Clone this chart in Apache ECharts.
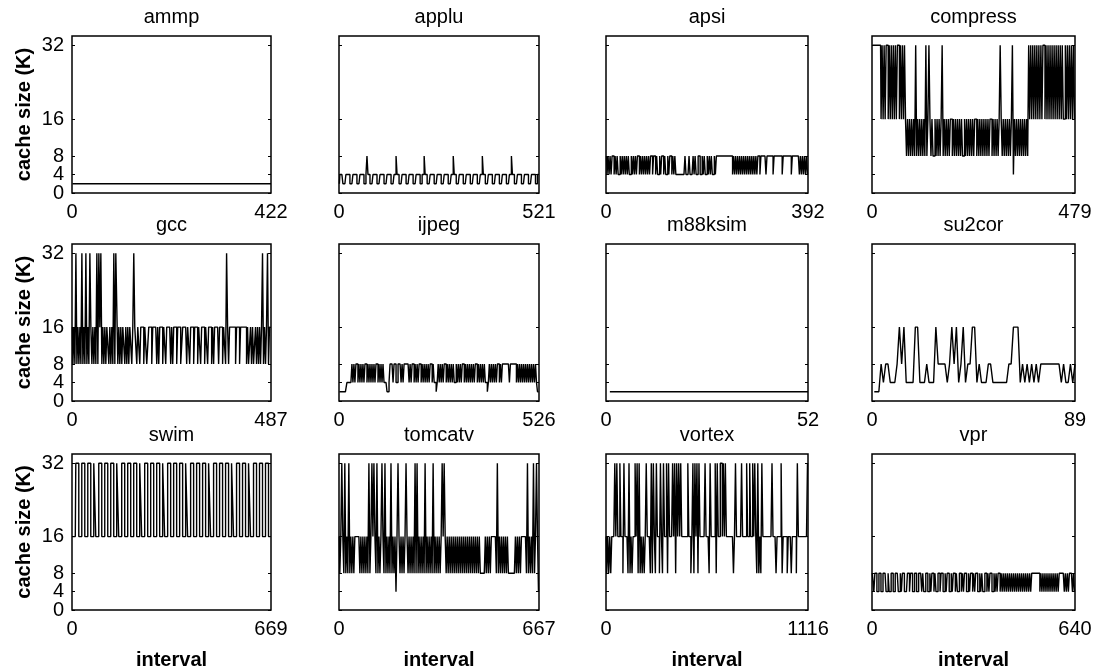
<!DOCTYPE html>
<html>
<head>
<meta charset="utf-8">
<script src="https://cdn.jsdelivr.net/npm/echarts@6/dist/echarts.min.js"></script>
<style>
  html, body { margin: 0; padding: 0; background: #fff; }
  #chart { width: 1098px; height: 672px; }
</style>
</head>
<body>
<div id="chart"></div>
<script>
// benchmarks, in panel order (row by row)
const benchmarks = ['ammp', 'applu', 'apsi', 'compress', 'gcc', 'ijpeg', 'm88ksim', 'su2cor', 'swim', 'tomcatv', 'vortex', 'vpr']
// number of intervals of each run (last x tick)
const intervalCounts = [422, 521, 392, 479, 487, 526, 52, 89, 669, 667, 1116, 640]
const cacheTicks = [0, 4, 8, 16, 32]
// tick labels split in two sets so neighbouring labels are not dropped
const cacheLabelsA = [0, 8, 32]
const cacheLabelsB = [4, 16]

// cache size (K), samples spread evenly from interval 1 to the last interval
const ammp = [2, 2]
const applu = [
  2, 4, 4, 4, 2, 2, 2, 4, 4, 4, 4, 2, 2, 2, 4, 4, 4, 4, 2, 2, 2, 4, 4, 4, 4, 2, 2, 4, 8,
  4, 4, 2, 2, 2, 4, 4, 4, 4, 2, 2, 2, 4, 4, 4, 4, 2, 2, 2, 4, 4, 4, 4, 2, 2, 2, 4, 4, 8,
  4, 4, 2, 2, 2, 4, 4, 4, 4, 2, 2, 2, 4, 4, 4, 4, 2, 2, 2, 4, 4, 4, 4, 2, 2, 4, 4, 8,
  4, 4, 2, 2, 2, 4, 4, 4, 4, 2, 2, 2, 4, 4, 4, 4, 2, 2, 2, 4, 4, 4, 4, 2, 2, 2, 4, 4, 8,
  4, 4, 2, 2, 2, 4, 4, 4, 4, 2, 2, 2, 4, 4, 4, 4, 2, 2, 2, 4, 4, 4, 4, 2, 2, 2, 4, 4, 8,
  4, 4, 2, 2, 2, 4, 4, 4, 4, 2, 2, 2, 4, 4, 4, 4, 2, 2, 2, 4, 4, 4, 4, 2, 2, 2, 4, 4, 8,
  4, 4, 2, 2, 2, 4, 4, 4, 4, 2, 2, 2, 4, 4, 4, 4, 2, 2, 2, 4, 4, 4, 4, 2, 2, 4, 4
]
const apsi = [
  8, 4, 8, 4, 8, 4, 8, 8, 4, 8, 4, 8, 4, 4, 8, 4, 8, 4, 8, 4,
  8, 4, 8, 4, 4, 8, 4, 8, 4, 8, 4, 8, 8, 4, 8, 4, 8, 4, 8, 4,
  8, 4, 8, 4, 8, 8, 4, 8, 8, 4, 8, 4, 4, 8, 4, 8, 8, 4, 8, 4,
  4, 8, 4, 8, 8, 4, 8, 4, 8, 4, 4, 4, 4, 4, 4, 4, 4, 4, 8, 4,
  4, 4, 8, 4, 4, 4, 8, 4, 8, 4, 4, 8, 8, 4, 4, 8, 4, 8, 4, 4,
  8, 4, 8, 4, 8, 4, 4, 8, 4, 8, 8, 8, 8, 8, 8, 8, 8, 8, 8, 8,
  8, 8, 8, 8, 8, 4, 8, 4, 8, 4, 8, 4, 8, 4, 8, 4, 8, 4, 8, 4,
  8, 4, 8, 4, 8, 4, 8, 4, 8, 4, 8, 8, 4, 8, 8, 8, 8, 8, 4, 8,
  8, 8, 8, 8, 8, 4, 8, 8, 8, 8, 8, 8, 8, 8, 4, 8, 8, 8, 8, 8,
  8, 8, 8, 4, 8, 8, 8, 8, 8, 8, 8, 4, 8, 4, 8, 4, 8, 4, 8, 4
]
const compress = [
  32, 32, 32, 32, 32, 32, 32, 32, 32,
  16, 32, 16, 32, 16, 32, 32, 16, 32, 16, 32, 16, 32, 16, 32, 16, 32, 32, 16, 32, 16, 32, 16, 32, 16,
  8, 16, 8, 16, 8, 16, 8, 16, 8, 32,
  8, 16, 8, 16, 8, 16, 8, 16, 8, 32,
  8, 16, 32, 16, 8, 16, 8, 8, 16, 8,
  16, 8, 16, 8, 16, 32, 8, 16, 8, 16,
  8, 16, 8, 16, 16, 8, 16, 8, 16, 8,
  16, 8, 16, 8, 16, 8, 8, 16, 8, 16,
  8, 16, 8, 16, 8, 16, 8, 16, 16, 8,
  16, 8, 16, 8, 16, 8, 16, 8, 16, 8,
  16, 8, 16, 16, 8, 16, 8, 16, 8, 16,
  8, 16, 32, 16, 8, 16, 8, 16, 8, 16,
  8, 16, 8, 16, 32, 4, 16, 8, 16, 8,
  16, 8, 16, 8, 16, 8, 16, 8, 16, 8,
  32, 16, 32, 16, 32, 16, 32, 16, 32, 16, 32, 16, 32, 16, 32, 32, 16, 32, 16, 32,
  16, 32, 16, 32, 16, 32, 16, 32, 16, 32, 16, 32, 16, 32, 16, 16, 32, 16, 32, 16,
  32, 16, 32, 16, 32, 16
]
const gcc = [
  16, 8, 16, 8, 32, 8, 16, 8, 16, 8, 32, 8, 16, 8, 32, 8, 16, 8, 32, 16,
  8, 16, 8, 16, 8, 32, 8, 32, 16, 32, 8, 16,
  8, 16, 8, 16, 16, 8, 16, 8, 16, 8,
  32, 8, 32, 32, 8,
  16, 8, 16, 8, 16, 16, 8, 16, 8, 16, 8, 16, 16, 8, 16,
  32,
  16, 16, 8, 16, 16, 8, 16, 16, 16, 8, 16, 16, 8, 8, 16, 16, 16, 8, 16, 16,
  16, 16, 8, 16, 8, 16, 16, 16, 8, 16, 16, 8, 16, 16, 16, 16, 8, 16, 8, 16,
  16, 16, 8, 16, 16, 16, 8, 8, 16, 16, 16, 16, 8, 16, 16, 8, 16, 16, 16, 8,
  16, 16, 16, 8, 16, 16, 8, 16, 16, 16, 8, 16, 16, 8, 16, 16, 16, 8, 16, 8,
  16, 16, 16, 16, 8, 16, 16, 16, 8, 16, 16, 8,
  32, 16,
  8, 16, 16, 16, 16, 16, 16, 8, 16, 16, 16, 8, 16, 16, 16, 16, 16, 16,
  8, 16, 8, 8, 16, 8, 16, 8, 8, 16, 8, 16, 8, 16, 8, 16, 32, 8, 16, 8,
  16, 32, 8, 16, 16
]
const ijpeg = [
  2, 2, 2, 2, 2, 2, 2, 2, 4, 4, 4, 4, 4,
  8, 4, 8, 4, 8, 8, 4, 8, 4, 8, 4, 8, 4, 8, 8, 4, 8, 4, 8, 4,
  8, 4, 8, 4, 8, 8, 4, 8, 4, 8, 4, 8, 4, 4,
  4, 2, 2, 4,
  8, 8, 8, 4, 8, 8, 4, 4, 8, 8, 8, 4, 8, 4,
  8, 8, 8, 8, 8, 4, 8, 4, 8, 8, 4, 8, 4, 8, 4, 8, 8, 4, 8, 4,
  8, 4, 8, 4, 8, 4, 8, 8, 4, 8, 4,
  4, 2, 4,
  8, 4, 8, 4, 8, 4, 8, 8, 4, 8, 4, 8, 4, 8, 4, 8, 4, 4, 8, 4,
  8, 4, 8, 4, 8, 8, 4, 8, 4, 8, 4, 8, 4, 8, 4, 8, 4, 8, 8, 4,
  8, 4, 8, 4, 8, 4, 8, 4,
  4, 2, 4,
  8, 4, 8, 4, 8, 4, 8, 4, 8, 8, 4, 8, 4, 8,
  8, 8, 8, 8, 8, 8, 4, 8, 8, 8, 8, 8, 8,
  4, 8, 4, 8, 4, 8, 4, 8, 4, 8, 4, 8, 4, 8, 4, 8, 4, 8, 4, 8, 4,
  2, 2
]
const m88ksim = [2, 2]
const su2cor = [
  2, 2, 2, 8, 4, 8, 8, 4, 4, 4,
  8, 16, 8, 16, 4, 4, 4, 4, 16, 16,
  4, 4, 4, 8, 4, 4, 4, 16, 8, 8,
  8, 8, 4, 8, 16, 8, 16, 4, 8, 16,
  4, 8, 8, 16, 16, 4, 8, 4, 4, 4,
  8, 8, 4, 4, 4, 4, 4, 4, 4, 8,
  8, 16, 16, 16, 4, 8, 4, 8, 4, 8,
  4, 8, 4, 8, 8, 8, 8, 8, 8, 8,
  8, 8, 4, 8, 4, 4, 8, 4, 8
]
const swim = [
  16, 16, 16, 16,
  32, 32, 32, 16, 16, 16, 32, 32, 32, 16, 16, 16, 32, 32, 32, 16, 16, 16, 32, 32, 16, 16, 16,
  32, 32, 32, 16, 16, 16, 32, 32, 32, 16, 16, 16, 32, 32, 32, 16, 16, 16, 32, 32, 16, 16, 16,
  32, 32, 32, 16, 16, 16, 32, 32, 32, 16, 16, 16, 32, 32, 32, 16, 16, 16, 32, 32, 16, 16, 16,
  32, 32, 32, 16, 16, 16, 32, 32, 32, 16, 16, 16, 32, 32, 32, 16, 16, 16, 32, 32, 16, 16, 16,
  32, 32, 32, 16, 16, 16, 32, 32, 32, 16, 16, 16, 32, 32, 32, 16, 16, 16, 32, 32, 16, 16, 16,
  32, 32, 32, 16, 16, 16, 32, 32, 32, 16, 16, 16, 32, 32, 32, 16, 16, 16, 32, 32, 16, 16, 16,
  32, 32, 32, 16, 16, 16, 32, 32, 32, 16, 16, 16, 32, 32, 32, 16, 16, 16, 32, 32, 16, 16, 16,
  32, 32, 32, 16, 16, 16, 32, 32, 32, 16, 16, 16, 32, 32, 16, 16, 16,
  32, 32, 32, 16, 16, 16, 32, 32, 32, 16, 16, 16, 32, 32, 32, 16, 16, 16
]
const tomcatv = [
  16, 8, 16, 32, 16, 8, 32, 8, 16, 8, 32, 8, 16, 8, 16, 8, 16, 16, 16, 16,
  16, 8, 16, 8, 16, 8, 16, 8, 16, 8, 32, 8, 16, 32, 16, 32, 16, 8, 32, 8,
  16, 8, 16, 32, 16, 8, 32, 8, 16, 8, 16, 8, 32, 8, 16, 8, 16, 4, 16, 32,
  16, 8, 16, 8, 16, 8, 16, 32, 16, 8, 16, 8, 16, 8, 16, 8, 32, 8, 32, 8,
  16, 8, 16, 8, 16, 8, 32, 8, 16, 8, 16, 8, 16, 8, 32, 8, 16, 8, 16, 8,
  16, 8, 16, 32, 16, 32, 16, 8, 16, 8, 16, 8, 16, 8, 16, 8, 16, 8, 16, 8,
  16, 8, 16, 8, 16, 8, 16, 8, 16, 8, 16, 8, 16, 8, 16, 8, 16, 8, 16, 8,
  16, 8, 8, 8, 8, 8, 16, 8, 16, 8, 16, 8, 16, 16, 16, 16, 16, 8, 32, 8,
  16, 8, 16, 8, 16, 8, 16, 8, 16, 8, 8, 8, 8, 8, 8, 8, 16, 8, 16, 8,
  16, 8, 16, 16, 16, 16, 16, 8, 32, 8, 16, 8, 16, 8, 32, 8, 16, 32, 16, 4
]
const vortex = [
  16, 8, 16, 8, 16, 8, 16, 16, 16, 32, 16, 32, 16, 16, 32, 16, 16, 8, 32, 16,
  16, 16, 8, 32, 8, 16, 8, 16, 16, 32, 16, 32, 8, 32, 8, 16, 8, 16, 8, 16,
  32, 16, 16, 16, 8, 32, 8, 32, 16, 8, 32, 16, 16, 8, 32, 16, 8, 32, 16, 16,
  32, 8, 32, 16, 16, 16, 32, 16, 32, 8, 32, 16, 32, 16, 32, 16, 16, 16, 16, 16,
  16, 32, 16, 16, 8, 16, 32, 8, 32, 16, 32, 8, 32, 16, 16, 16, 16, 16, 32, 16,
  16, 16, 8, 32, 16, 16, 16, 16, 32, 8, 32, 16, 16, 32, 32, 16, 32, 16, 32, 16,
  16, 16, 16, 16, 16, 16, 8, 16, 32, 16, 16, 16, 16, 16, 32, 16, 16, 16, 16, 32,
  16, 16, 32, 16, 16, 32, 16, 32, 16, 8, 32, 8, 16, 8, 32, 16, 16, 16, 16, 16,
  16, 16, 16, 16, 32, 16, 16, 16, 8, 16, 16, 16, 16, 32, 8, 16, 16, 16, 16, 8,
  16, 16, 16, 8, 16, 16, 16, 16, 8, 32, 16, 16, 16, 16, 16, 16, 16, 16, 16, 32
]
const vpr = [
  8, 8, 4, 8, 8, 4, 4, 8, 8, 4, 4, 8, 8, 8, 4, 4, 8, 4, 4, 8,
  8, 4, 4, 8, 8, 8, 4, 4, 8, 4, 8, 8, 4, 4, 4, 8, 8, 4, 8, 8,
  4, 4, 8, 8, 4, 4, 8, 8, 8, 4, 8, 4, 4, 8, 8, 4, 4, 8, 4, 8,
  8, 4, 8, 4, 4, 8, 8, 4, 8, 8, 4, 4, 8, 4, 8, 8, 4, 4, 8, 4,
  8, 8, 4, 8, 4, 4, 8, 8, 4, 8, 4, 8, 8, 4, 4, 8, 4, 8, 8, 4,
  8, 4, 8, 8, 4, 4, 8, 4, 8, 4, 4, 8, 8, 4, 8, 4, 8, 8, 4, 4,
  8, 4, 8, 4, 8, 8, 4, 8, 4, 8, 4, 8, 4, 8, 4, 8, 4, 8, 4, 8,
  4, 8, 4, 8, 4, 8, 4, 8, 4, 8, 4, 8, 4, 8, 4, 8, 4, 8, 8, 8,
  8, 8, 8, 8, 8, 4, 8, 4, 8, 4, 8, 4, 8, 4, 8, 4, 8, 4, 8, 4,
  8, 4, 8, 4, 8, 8, 8, 8, 8, 4, 8, 4, 8, 4, 8, 8, 8, 4, 8, 4
]
const cacheSeries = [ammp, applu, apsi, compress, gcc, ijpeg, m88ksim, su2cor, swim, tomcatv, vortex, vpr]

const font = "'Liberation Sans', Arial, Helvetica, sans-serif"
const colLeft = [72, 339, 606, 872]
const colWidth = [199, 200, 202, 203]
const rowTop = [36, 244, 454]
const rowHeight = [157, 157, 156]

const chart = echarts.init(document.getElementById('chart'))
const grid = [], xAxis = [], yAxis = [], series = [], title = []
const labelStyle = { fontFamily: font, fontSize: 20, color: '#000' }
const nameStyle = { fontFamily: font, fontSize: 20, fontWeight: 'bold', color: '#000' }

benchmarks.forEach((name, i) => {
  const row = Math.floor(i / 4)
  const col = i % 4
  const last = intervalCounts[i]
  const values = cacheSeries[i]
  const step = (last - 1) / (values.length - 1)

  grid.push({
    left: colLeft[col], top: rowTop[row], width: colWidth[col], height: rowHeight[row],
    show: true, borderColor: '#000', borderWidth: 1.5, backgroundColor: 'transparent',
  })
  title.push({
    text: name,
    left: colLeft[col] + colWidth[col] / 2,
    top: rowTop[row] - 29,
    textAlign: 'center',
    padding: 0,
    textStyle: { ...labelStyle, fontWeight: 'normal' },
  })
  xAxis.push({
    gridIndex: i, type: 'value', min: 0, max: last, interval: last,
    axisLine: { show: false }, axisTick: { show: false }, splitLine: { show: false },
    axisLabel: { ...labelStyle, margin: 9, showMinLabel: true, showMaxLabel: true, formatter: v => String(v) },
    name: row === 2 ? 'interval' : '',
    nameLocation: 'middle', nameGap: 40,
    nameTextStyle: nameStyle,
  })

  const mainY = yAxis.length
  yAxis.push({
    gridIndex: i, type: 'value', min: 0, max: 34, position: 'left',
    axisLine: { show: false }, splitLine: { show: false },
    axisTick: { show: true, inside: true, length: 3, customValues: cacheTicks, lineStyle: { color: '#000' } },
    axisLabel: { ...labelStyle, show: col === 0, customValues: cacheLabelsA, showMinLabel: true, showMaxLabel: true, margin: 8 },
    name: col === 0 ? 'cache size (K)' : '',
    nameLocation: 'middle', nameGap: 38, nameRotate: 90,
    nameTextStyle: nameStyle,
  })
  yAxis.push({
    gridIndex: i, type: 'value', min: 0, max: 34, position: 'right',
    axisLine: { show: false }, splitLine: { show: false }, axisLabel: { show: false },
    axisTick: { show: true, inside: true, length: 3, customValues: cacheTicks, lineStyle: { color: '#000' } },
  })
  if (col === 0) {
    yAxis.push({
      gridIndex: i, type: 'value', min: 0, max: 34, position: 'left',
      axisLine: { show: false }, splitLine: { show: false }, axisTick: { show: false },
      axisLabel: { ...labelStyle, customValues: cacheLabelsB, showMinLabel: true, showMaxLabel: true, margin: 8 },
    })
  }
  series.push({
    type: 'line',
    xAxisIndex: i,
    yAxisIndex: mainY,
    data: values.map((v, k) => [1 + k * step, v]),
    step: values.length > 100 ? 'middle' : false,
    symbol: 'none',
    lineStyle: { color: '#000', width: 1.4 },
  })
})

chart.setOption({
  animation: false,
  backgroundColor: '#fff',
  title, grid, xAxis, yAxis, series,
})
</script>
</body>
</html>
